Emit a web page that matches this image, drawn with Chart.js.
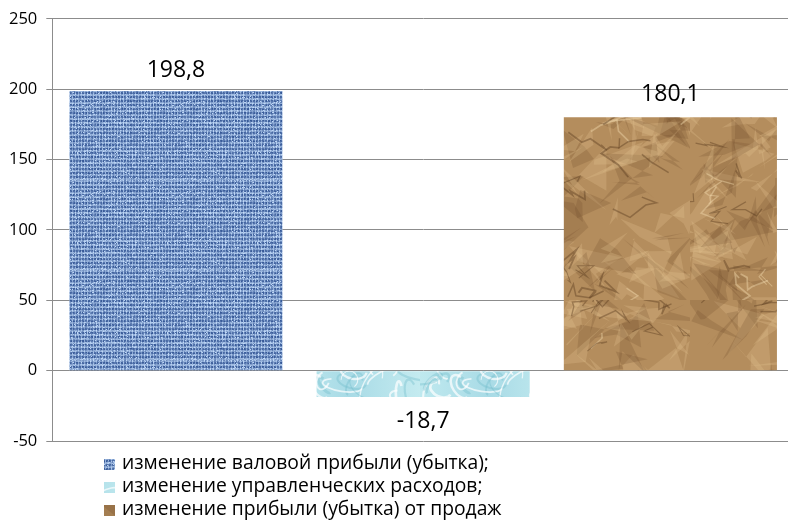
<!DOCTYPE html>
<html>
<head>
<meta charset="utf-8">
<script src="https://cdn.jsdelivr.net/npm/chart.js@4/dist/chart.umd.min.js"></script>
<style>
  html, body { margin: 0; padding: 0; background: #fff; }
  #clip { width: 788px; height: 527px; overflow: hidden; }
  #wrap { width: 794px; height: 527px; }
</style>
</head>
<body>
<div id="clip"><div id="wrap"><canvas id="chart"></canvas></div></div>
<script>
const seriesNames = [
    'изменение валовой прибыли (убытка);',
    'изменение управленческих расходов;',
    'изменение прибыли (убытка) от продаж'
];
const seriesValues = [198.8, -18.7, 180.1];
const yTicks = [-50, 0, 50, 100, 150, 200, 250];

// small seeded generator, only for the fill textures
function rng(seed) {
    return function () {
        seed |= 0; seed = seed + 0x6D2B79F5 | 0;
        let t = Math.imul(seed ^ seed >>> 15, 1 | seed);
        t = t + Math.imul(t ^ t >>> 7, 61 | t) ^ t;
        return ((t ^ t >>> 14) >>> 0) / 4294967296;
    };
}

function tile(w, h, paint) {
    const c = document.createElement('canvas');
    c.width = w; c.height = h;
    paint(c.getContext('2d'), w, h);
    return c;
}

// blue linen
const linen = tile(90, 90, (g, w, h) => {
    const r = rng(7);
    const img = g.createImageData(w, h);
    const colJit = [], rowJit = [];
    for (let i = 0; i < w; i++) colJit.push(r());
    for (let i = 0; i < h; i++) rowJit.push(r());
    for (let y = 0; y < h; y++) {
        for (let x = 0; x < w; x++) {
            const vx = (x % 3) === 0, hy = (y % 4) < 2;
            let k;
            if (vx && hy) k = 0.6 + r() * 0.4;
            else if (vx || hy) k = 0.25 + r() * 0.45 + (vx ? colJit[x] : rowJit[y]) * 0.2;
            else k = 0.05 + r() * 0.3;
            if (r() < 0.04) k = 0.95;
            const i = (y * w + x) * 4;
            img.data[i] = 45 + k * 150;
            img.data[i + 1] = 80 + k * 140;
            img.data[i + 2] = 145 + k * 105;
            img.data[i + 3] = 255;
        }
    }
    g.putImageData(img, 0, 0);
});

// pale water bubbles
const water = tile(140, 40, (g, w, h) => {
    const r = rng(11);
    const grd = g.createLinearGradient(0, 0, w, 0);
    grd.addColorStop(0, '#bfe9ef');
    grd.addColorStop(0.5, '#a9dbe6');
    grd.addColorStop(1, '#c4ebf0');
    g.fillStyle = grd;
    g.fillRect(0, 0, w, h);
    for (let i = 0; i < 22; i++) {
        const x = r() * w, y = r() * h, rx = 6 + r() * 14, ry = 3 + r() * 7;
        g.strokeStyle = r() < 0.6 ? 'rgba(255,255,255,0.7)' : 'rgba(110,185,200,0.35)';
        g.lineWidth = 1 + r() * 2;
        g.beginPath();
        g.ellipse(x, y, rx, ry, r() * Math.PI, 0, Math.PI * 1.3);
        g.stroke();
    }
});

// crumpled paper
const paper = tile(230, 300, (g, w, h) => {
    const r = rng(23);
    g.fillStyle = '#b48d5d';
    g.fillRect(0, 0, w, h);
    for (let i = 0; i < 180; i++) {
        const x = r() * w, y = r() * h;
        const light = r() < 0.55;
        g.fillStyle = light ? 'rgba(225,195,145,0.28)' : 'rgba(110,75,40,0.22)';
        g.beginPath();
        g.moveTo(x, y);
        for (let s = 0; s < 3; s++) g.lineTo(x + (r() - 0.5) * 70, y + (r() - 0.5) * 60);
        g.closePath();
        g.fill();
    }
    for (let i = 0; i < 45; i++) {
        let x = r() * w, y = r() * h;
        g.strokeStyle = r() < 0.6 ? 'rgba(85,55,28,0.4)' : 'rgba(240,215,170,0.45)';
        g.lineWidth = 1 + r();
        g.beginPath();
        g.moveTo(x, y);
        for (let s = 0; s < 4; s++) {
            x += (r() - 0.5) * 35; y += (r() - 0.5) * 25;
            g.lineTo(x, y);
        }
        g.stroke();
    }
});

const ctx = document.getElementById('chart').getContext('2d');
const fills = [linen, water, paper].map(t => ctx.createPattern(t, 'repeat'));
const font = "'Open Sans', sans-serif";

const valueLabels = {
    id: 'valueLabels',
    afterDatasetsDraw(chart) {
        const c = chart.ctx;
        const offsets = [20, 24, 23];
        c.save();
        c.font = '23px ' + font;
        c.fillStyle = '#000';
        c.textAlign = 'center';
        c.textBaseline = 'middle';
        chart.data.datasets.forEach((ds, i) => {
            const bar = chart.getDatasetMeta(i).data[0];
            const v = ds.data[0];
            const y = v >= 0 ? bar.y - offsets[i] : bar.y + offsets[i];
            c.fillText(String(v).replace('.', ','), bar.x, y);
        });
        c.restore();
    }
};

const sideLegend = {
    id: 'sideLegend',
    afterDraw(chart) {
        const c = chart.ctx;
        const top = chart.chartArea.bottom + 23;
        c.save();
        c.font = '19.3px ' + font;
        c.textBaseline = 'middle';
        chart.data.datasets.forEach((ds, i) => {
            const y = top + i * 23;
            c.fillStyle = ds.backgroundColor;
            c.fillRect(104, y - 5, 11, 11);
            c.fillStyle = '#000';
            c.fillText(ds.label, 122, y);
        });
        c.restore();
    }
};

new Chart(ctx, {
    type: 'bar',
    data: {
        labels: [''],
        datasets: seriesNames.map((name, i) => ({
            label: name,
            data: [seriesValues[i]],
            backgroundColor: fills[i],
            borderWidth: 0
        }))
    },
    options: {
        responsive: true,
        maintainAspectRatio: false,
        animation: false,
        categoryPercentage: 1,
        barPercentage: 0.862,
        layout: { padding: { top: 8, right: 0, left: 0, bottom: 86 } },
        scales: {
            x: { display: false },
            y: {
                min: yTicks[0],
                max: yTicks[yTicks.length - 1],
                afterBuildTicks: axis => { axis.ticks = yTicks.map(v => ({ value: v })); },
                grid: { color: '#8c8c8c', tickLength: 6 },
                border: { color: '#8c8c8c' },
                ticks: { color: '#000', font: { family: font, size: 16.5 }, padding: 9 }
            }
        },
        plugins: {
            legend: { display: false },
            tooltip: { enabled: false }
        }
    },
    plugins: [valueLabels, sideLegend]
});
</script>
</body>
</html>
